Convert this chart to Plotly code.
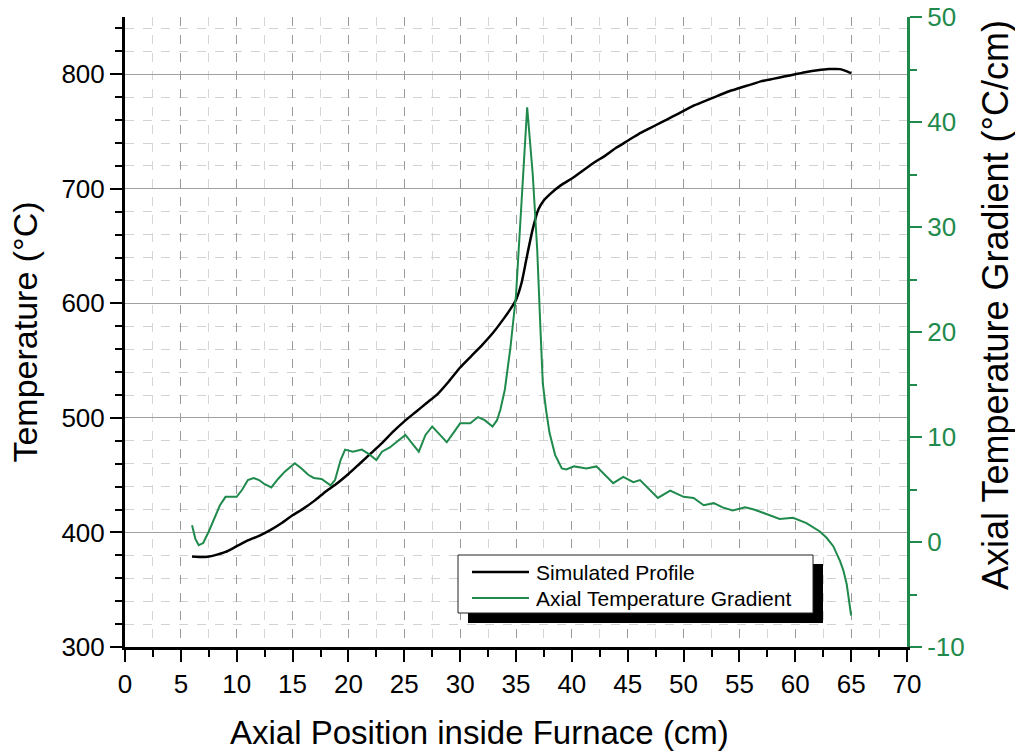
import plotly.graph_objects as go

# ---- data ----
pos_profile = [6, 7, 7.5, 8, 9, 10, 11, 12, 13, 14, 15, 16, 17, 18, 19, 20, 21, 22, 23, 24,
               25, 26, 27, 28, 29, 30, 31, 32, 33, 34, 34.5, 35, 35.5, 36, 36.5, 37, 37.5, 38,
               39, 40, 41, 42, 43, 44, 45, 46, 47, 48, 49, 50, 51, 52, 53, 54, 55, 56, 57,
               58, 59, 60, 61, 62, 63, 64, 64.5, 65]
temp_profile = [379, 378.5, 379, 380, 383, 388, 393, 397, 402, 408, 415, 421, 428, 436, 443,
                451, 460, 469, 478, 488, 497, 505, 513, 521, 532, 544, 554, 564, 575, 588,
                595, 603, 618, 642, 665, 682, 690, 695, 703, 709, 716, 723, 729, 736, 742,
                748, 753, 758, 763, 768, 773, 777, 781, 785, 788, 791, 794, 796, 798, 800,
                802, 803.5, 804.5, 804.5, 803, 801]

pos_gradient = [6.0, 6.3, 6.6, 7.0, 7.5, 8.0, 8.5, 9.0, 9.5, 10.0, 10.5, 11.0, 11.5, 12.0,
                12.5, 13.1, 13.7, 14.3, 15.2, 15.8, 16.4, 16.9, 17.6, 18.4, 18.8, 19.3, 19.7,
                20.4, 21.2, 21.8, 22.5, 23.0, 23.7, 24.4, 25.1, 25.7, 26.3, 26.9, 27.5, 28.2,
                28.8, 29.4, 30.0, 30.9, 31.6, 32.2, 32.9, 33.3, 33.6, 34.0, 34.5, 35.0, 35.5,
                36.0, 36.5, 36.9, 37.2, 37.4, 37.7, 38.0, 38.5, 39.1, 39.5, 40.2, 40.8, 41.3,
                42.2, 43.0, 43.7, 44.6, 45.5, 46.1, 46.9, 47.7, 48.8, 50.0, 50.9, 51.8, 52.7,
                53.5, 54.4, 55.5, 56.3, 57.1, 58.6, 59.8, 61.0, 62.2, 62.8, 63.4, 64.0, 64.3,
                64.6, 64.8, 65.0]
grad_values = [1.6, 0.3, -0.3, -0.1, 1.0, 2.3, 3.5, 4.3, 4.3, 4.3, 5.0, 5.9, 6.1, 5.9,
               5.5, 5.2, 6.0, 6.7, 7.5, 7.0, 6.4, 6.1, 6.0, 5.4, 5.9, 7.8, 8.8,
               8.6, 8.8, 8.4, 7.8, 8.6, 9.0, 9.6, 10.2, 9.4, 8.6, 10.2, 11.0, 10.2,
               9.5, 10.4, 11.3, 11.3, 11.9, 11.6, 11.0, 11.6, 12.6, 14.5, 18.5, 23.5, 32.0,
               41.4, 35.0, 27.8, 20.0, 15.1, 12.5, 10.4, 8.3, 7.0, 6.9, 7.2, 7.1, 7.0,
               7.2, 6.3, 5.6, 6.2, 5.7, 5.9, 5.0, 4.2, 4.9, 4.3, 4.2, 3.5, 3.7,
               3.3, 3.0, 3.3, 3.1, 2.8, 2.2, 2.3, 1.8, 1.0, 0.4, -0.4, -1.8, -2.7,
               -4.0, -5.5, -7.0]

series_names = ["Simulated Profile", "Axial Temperature Gradient"]
x_ticks = [0, 5, 10, 15, 20, 25, 30, 35, 40, 45, 50, 55, 60, 65, 70]
y_ticks = [300, 400, 500, 600, 700, 800]
y2_ticks = [-10, 0, 10, 20, 30, 40, 50]
y2_ticktext = ["-10", "0", "10", "20", "30", "40", "50"]

GREEN = "#1f8a4c"
FONT = "Arial, 'Liberation Sans', sans-serif"

L, R, T, B = 125, 108, 17, 109
W, H = 1015, 756
PW, PH = W - L - R, H - T - B


def px(xpix):
    return (xpix - L) / PW


def py(ypix):
    return (H - B - ypix) / PH


fig = go.Figure()
fig.add_trace(go.Scatter(x=pos_profile, y=temp_profile, mode="lines", name=series_names[0],
                         line=dict(color="black", width=2.5, shape="spline", smoothing=0.6)))
fig.add_trace(go.Scatter(x=pos_gradient, y=grad_values, mode="lines", name=series_names[1],
                         yaxis="y2", line=dict(color=GREEN, width=2)))

fig.update_layout(
    width=W, height=H,
    margin=dict(l=L, r=R, t=T, b=B, autoexpand=False),
    paper_bgcolor="white", plot_bgcolor="white",
    font=dict(family=FONT, color="black"),
    showlegend=False,
    xaxis=dict(range=[0, 70], tickvals=x_ticks, automargin=False,
               showline=True, linecolor="black", linewidth=3,
               ticks="outside", ticklen=12, tickwidth=2, tickcolor="black",
               tickfont=dict(size=26, family=FONT, color="black"),
               showgrid=True, gridcolor="#9a9a9a", gridwidth=1, griddash="dash",
               minor=dict(dtick=2.5, tick0=0, ticks="outside", ticklen=7, tickwidth=2,
                          tickcolor="black", showgrid=True, gridcolor="#d6d6d6",
                          griddash="dash", gridwidth=1),
               zeroline=False),
    yaxis=dict(range=[300, 850], tickvals=y_ticks, automargin=False,
               showline=True, linecolor="black", linewidth=3,
               ticks="outside", ticklen=12, tickwidth=2, tickcolor="black",
               tickfont=dict(size=26, family=FONT, color="black"),
               showgrid=True, gridcolor="#a0a0a0", gridwidth=1.2,
               minor=dict(dtick=20, tick0=300, ticks="outside", ticklen=7, tickwidth=2,
                          tickcolor="black", showgrid=True, gridcolor="#d2d2d2",
                          griddash="dash", gridwidth=1),
               zeroline=False,
               title=dict(text="Temperature (°C)",
                          font=dict(size=34, family=FONT, color="black"), standoff=14)),
    yaxis2=dict(range=[-10, 50], tickvals=y2_ticks, ticktext=y2_ticktext,
                overlaying="y", side="right", automargin=False,
                showline=True, linecolor=GREEN, linewidth=3,
                ticks="outside", ticklen=12, tickwidth=2, tickcolor=GREEN,
                tickfont=dict(size=26, family=FONT, color=GREEN),
                showgrid=False, zeroline=False,
                minor=dict(dtick=5, tick0=-10, ticks="outside", ticklen=7, tickwidth=2,
                           tickcolor=GREEN, showgrid=False)),
)

# axis titles placed as in the reference
fig.add_annotation(text="Axial Position inside Furnace (cm)", xref="paper", yref="paper",
                   x=px(479), y=py(732), xanchor="center", yanchor="middle",
                   showarrow=False, font=dict(size=33, family=FONT, color="black"))
fig.add_annotation(text="Axial Temperature Gradient (°C/cm)", xref="paper", yref="paper",
                   x=px(995), y=py(305), xanchor="center", yanchor="middle", textangle=-90,
                   showarrow=False, font=dict(size=36, family=FONT, color="black"))

# legend drawn with shapes + text (box with drop shadow)
fig.add_shape(type="rect", xref="paper", yref="paper", layer="above",
              x0=px(468), x1=px(823), y0=py(623), y1=py(564),
              fillcolor="black", line=dict(width=0))
fig.add_shape(type="rect", xref="paper", yref="paper", layer="above",
              x0=px(458), x1=px(813), y0=py(613), y1=py(555),
              fillcolor="white", line=dict(color="#222", width=1))
legend_rows = [(572, "black"), (598, GREEN)]
for (row_y, col), name in zip(legend_rows, series_names):
    fig.add_shape(type="line", xref="paper", yref="paper", layer="above",
                  x0=px(472), x1=px(529), y0=py(row_y), y1=py(row_y),
                  line=dict(color=col, width=2.5 if col == "black" else 2))
    fig.add_annotation(text=name, xref="paper", yref="paper", x=px(534), y=py(row_y),
                       xanchor="left", yanchor="middle", showarrow=False,
                       font=dict(size=21, family=FONT, color="black"))

fig.write_html("out.html")
